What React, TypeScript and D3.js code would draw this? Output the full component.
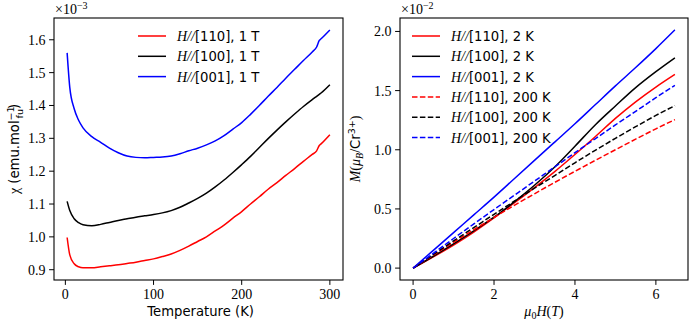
import React, { useEffect, useRef } from 'react';
import * as d3 from 'd3';

// susceptibility vs temperature (x1e-3 emu/mol_fu)
const temps = [2, 5, 10, 15, 20, 30, 40, 50, 60, 70, 80, 90, 100, 110, 120, 130, 140, 150, 160, 170, 180, 190, 200, 210, 220, 230, 240, 250, 260, 270, 280, 285, 288, 290, 300];
const chi110 = [0.998, 0.945, 0.918, 0.909, 0.906, 0.906, 0.909, 0.912, 0.915, 0.919, 0.923, 0.928, 0.933, 0.94, 0.948, 0.959, 0.972, 0.986, 1.0, 1.018, 1.036, 1.057, 1.077, 1.1, 1.122, 1.145, 1.165, 1.187, 1.208, 1.23, 1.251, 1.262, 1.278, 1.283, 1.311];
const chi100 = [1.108, 1.08, 1.055, 1.043, 1.037, 1.034, 1.038, 1.044, 1.05, 1.055, 1.06, 1.064, 1.068, 1.073, 1.08, 1.09, 1.103, 1.117, 1.133, 1.152, 1.173, 1.196, 1.22, 1.245, 1.272, 1.299, 1.325, 1.35, 1.374, 1.397, 1.418, 1.428, 1.434, 1.438, 1.463];
const chi001 = [1.56, 1.455, 1.39, 1.355, 1.332, 1.305, 1.288, 1.27, 1.256, 1.246, 1.242, 1.241, 1.242, 1.243, 1.246, 1.253, 1.262, 1.27, 1.28, 1.292, 1.308, 1.328, 1.348, 1.373, 1.4, 1.428, 1.455, 1.483, 1.51, 1.537, 1.563, 1.578, 1.598, 1.603, 1.63];

// magnetisation vs field (x1e-2 muB/Cr3+)
const fields = [0, 0.5, 1, 1.5, 2, 2.5, 3, 3.5, 4, 4.5, 5, 5.5, 6, 6.47];
const m110_2K = [0, 0.095, 0.195, 0.305, 0.425, 0.55, 0.68, 0.815, 0.96, 1.11, 1.265, 1.405, 1.53, 1.637];
const m100_2K = [0, 0.1, 0.205, 0.315, 0.43, 0.56, 0.7, 0.855, 1.03, 1.21, 1.37, 1.525, 1.66, 1.777];
const m001_2K = [0, 0.15, 0.3, 0.45, 0.6, 0.755, 0.91, 1.065, 1.22, 1.38, 1.54, 1.695, 1.855, 2.013];
const m110_200K = [0, 0.11, 0.218, 0.324, 0.428, 0.53, 0.628, 0.724, 0.818, 0.91, 1.0, 1.09, 1.177, 1.255];
const m100_200K = [0, 0.115, 0.23, 0.342, 0.455, 0.565, 0.675, 0.782, 0.89, 0.995, 1.097, 1.195, 1.29, 1.373];
const m001_200K = [0, 0.125, 0.25, 0.373, 0.495, 0.615, 0.735, 0.855, 0.975, 1.093, 1.21, 1.325, 1.44, 1.544];

const chiTicks = [0.9, 1.0, 1.1, 1.2, 1.3, 1.4, 1.5, 1.6];
const tempTicks = [0, 100, 200, 300];
const mTicks = [0, 0.5, 1.0, 1.5, 2.0];
const fieldTicks = [0, 2, 4, 6];

const SERIF = "'Liberation Serif', serif";
const SANS = "'DejaVu Sans', sans-serif";

export default function App() {
    const ref = useRef<SVGSVGElement>(null);

    useEffect(() => {
        document.body.style.margin = '0';
        const svg = d3.select(ref.current);
        svg.selectAll('*').remove();

        const top = 18, bottom = 280;

        function axes(xs, ys, xTicks, yTicks, fmt) {
            const g = svg.append('g');
            const [x0] = xs.range();
            // ticks
            g.selectAll('.yt').data(yTicks).enter().append('line')
                .attr('x1', x0 - 4.9).attr('x2', x0)
                .attr('y1', d => ys(d)).attr('y2', d => ys(d))
                .attr('stroke', '#000').attr('stroke-width', 1);
            g.selectAll('.ytl').data(yTicks).enter().append('text')
                .attr('x', x0 - 8.4).attr('y', d => ys(d) + 5)
                .attr('text-anchor', 'end')
                .attr('font-family', SERIF).attr('font-size', 14)
                .text(d => d.toFixed(1));
            g.selectAll('.xt').data(xTicks).enter().append('line')
                .attr('x1', d => xs(d)).attr('x2', d => xs(d))
                .attr('y1', bottom).attr('y2', bottom + 4.9)
                .attr('stroke', '#000').attr('stroke-width', 1);
            g.selectAll('.xtl').data(xTicks).enter().append('text')
                .attr('x', d => xs(d)).attr('y', bottom + 19)
                .attr('text-anchor', 'middle')
                .attr('font-family', SERIF).attr('font-size', 14)
                .text(d => fmt(d));
            return g;
        }

        function frame(xs) {
            const [x0, x1] = xs.range();
            svg.append('rect')
                .attr('x', x0).attr('y', top)
                .attr('width', x1 - x0).attr('height', bottom - top)
                .attr('fill', 'none').attr('stroke', '#000').attr('stroke-width', 1.1);
        }

        function offsetText(x, exp) {
            const t = svg.append('text').attr('x', x).attr('y', 14)
                .attr('font-family', SERIF).attr('font-size', 14);
            t.append('tspan').text('×10');
            t.append('tspan').attr('font-size', 10).attr('dy', -5).text(exp);
        }

        function legend(x, y, items) {
            items.forEach((it, i) => {
                const yy = y + i * 20.3;
                svg.append('line')
                    .attr('x1', x).attr('x2', x + 28)
                    .attr('y1', yy).attr('y2', yy)
                    .attr('stroke', it.color).attr('stroke-width', 1.5)
                    .attr('stroke-dasharray', it.dash ? '5.5,2.4' : null);
                const t = svg.append('text').attr('x', x + 39).attr('y', yy + 5)
                    .attr('font-size', 13.2);
                t.append('tspan').attr('font-family', SERIF).attr('font-style', 'italic').attr('font-size', 14).text('H//');
                t.append('tspan').attr('font-family', SANS).text(it.label);
            });
        }

        // ---- left panel: chi(T)
        const xT = d3.scaleLinear().domain([-12.9, 314.9]).range([54, 343]);
        const yChi = d3.scaleLinear().domain([0.8687, 1.6663]).range([bottom, top]);

        axes(xT, yChi, tempTicks, chiTicks, d => String(d));

        const chiSeries = [
            { vals: chi110, color: 'red' },
            { vals: chi100, color: 'black' },
            { vals: chi001, color: 'blue' },
        ];
        chiSeries.forEach(s => {
            const line = d3.line<number>()
                .x((d, i) => xT(temps[i]))
                .y(d => yChi(d))
                .curve(d3.curveMonotoneX);
            svg.append('path')
                .attr('d', line(s.vals))
                .attr('fill', 'none').attr('stroke', s.color).attr('stroke-width', 1.5);
        });
        frame(xT);
        offsetText(55, '−3');

        legend(138, 36, [
            { color: 'red', label: '[110], 1 T' },
            { color: 'black', label: '[100], 1 T' },
            { color: 'blue', label: '[001], 1 T' },
        ]);

        svg.append('text')
            .attr('x', xT(150) + 3).attr('y', 316)
            .attr('text-anchor', 'middle')
            .attr('font-family', SANS).attr('font-size', 13.2)
            .text('Temperature (K)');

        const yl = svg.append('text')
            .attr('transform', 'translate(19,' + (top + bottom) / 2 + ') rotate(-90)')
            .attr('text-anchor', 'middle')
            .attr('font-family', SANS).attr('font-size', 13.2);
        yl.append('tspan').attr('font-family', SERIF).attr('font-size', 14).text('χ');
        yl.append('tspan').text(' (emu.mol');
        yl.append('tspan').attr('font-size', 9.5).attr('dy', -5).text('−1');
        yl.append('tspan').attr('font-size', 9.5).attr('dx', -12).attr('dy', 9).text('fu');
        yl.append('tspan').attr('dy', -4).text(')');

        // ---- right panel: M(H)
        const xH = d3.scaleLinear().domain([-0.3235, 6.7935]).range([400, 688]);
        const yM = d3.scaleLinear().domain([-0.1006, 2.1136]).range([bottom, top]);

        axes(xH, yM, fieldTicks, mTicks, d => String(d));

        const mSeries = [
            { vals: m110_2K, color: 'red', dash: false, label: '[110], 2 K' },
            { vals: m100_2K, color: 'black', dash: false, label: '[100], 2 K' },
            { vals: m001_2K, color: 'blue', dash: false, label: '[001], 2 K' },
            { vals: m110_200K, color: 'red', dash: true, label: '[110], 200 K' },
            { vals: m100_200K, color: 'black', dash: true, label: '[100], 200 K' },
            { vals: m001_200K, color: 'blue', dash: true, label: '[001], 200 K' },
        ];
        mSeries.forEach(s => {
            const line = d3.line<number>()
                .x((d, i) => xH(fields[i]))
                .y(d => yM(d))
                .curve(d3.curveMonotoneX);
            svg.append('path')
                .attr('d', line(s.vals))
                .attr('fill', 'none').attr('stroke', s.color).attr('stroke-width', 1.5)
                .attr('stroke-dasharray', s.dash ? '5.5,2.4' : null);
        });
        frame(xH);
        offsetText(401, '−2');

        legend(412, 36, mSeries);

        const xl = svg.append('text')
            .attr('x', (400 + 688) / 2).attr('y', 316)
            .attr('text-anchor', 'middle')
            .attr('font-family', SERIF).attr('font-size', 14);
        xl.append('tspan').attr('font-style', 'italic').text('μ');
        xl.append('tspan').attr('font-size', 10).attr('dy', 3).text('0');
        xl.append('tspan').attr('font-style', 'italic').attr('dy', -3).text('H');
        xl.append('tspan').text('(');
        xl.append('tspan').attr('font-style', 'italic').text('T');
        xl.append('tspan').text(')');

        const ml = svg.append('text')
            .attr('transform', 'translate(360,' + (top + bottom) / 2 + ') rotate(-90)')
            .attr('text-anchor', 'middle')
            .attr('font-family', SERIF).attr('font-size', 14);
        ml.append('tspan').attr('font-style', 'italic').text('M');
        ml.append('tspan').text('(');
        ml.append('tspan').attr('font-style', 'italic').text('μ');
        ml.append('tspan').attr('font-style', 'italic').attr('font-size', 10).attr('dy', 3).text('B');
        ml.append('tspan').attr('dy', -3).text('/');
        ml.append('tspan').attr('font-family', SANS).attr('font-size', 13.2).text('Cr');
        ml.append('tspan').attr('font-family', SANS).attr('font-size', 9.5).attr('dy', -5).text('3+');
        ml.append('tspan').attr('dy', 5).text(')');
    }, []);

    return (
        <div id="chart">
            <svg ref={ref} width={692} height={326} style={{ display: 'block', background: '#fff' }}></svg>
        </div>
    );
}
